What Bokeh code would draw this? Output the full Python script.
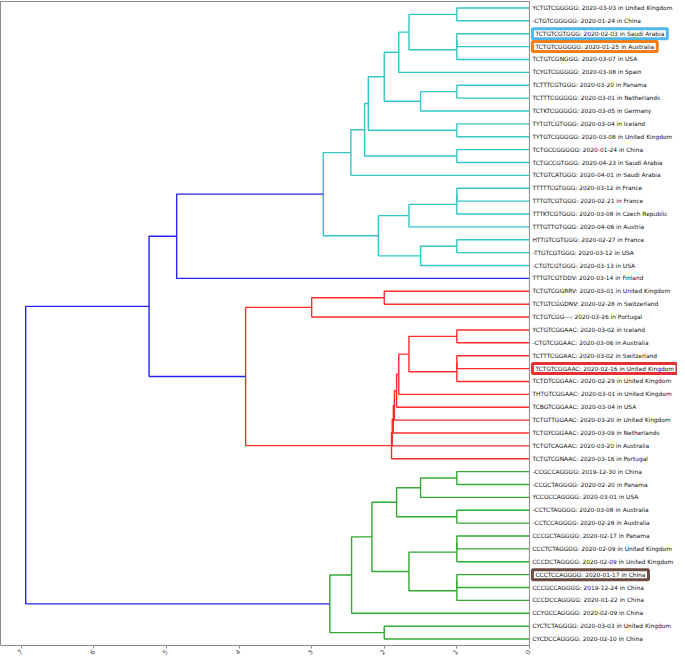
import numpy as np
from bokeh.plotting import figure
from bokeh.models import Range1d, LinearAxis, FixedTicker, Span, Label, ColumnDataSource
from bokeh.core.properties import value
from bokeh.embed import file_html
from bokeh.resources import INLINE

# ---------------- data ----------------
leaf_labels = [
    "YCTGTCGGGGG: 2020-03-03 in United Kingdom",
    "-CTGTCGGGGG: 2020-01-24 in China",
    "TCTGTCGTGGG: 2020-02-03 in Saudi Arabia",
    "TCTGTCGGGGG: 2020-01-25 in Australia",
    "TCTGTCGNGGG: 2020-03-07 in USA",
    "TCYGTCGGGGG: 2020-03-08 in Spain",
    "TCTTTCGTGGG: 2020-03-20 in Panama",
    "TCTTTCGGGGG: 2020-03-01 in Netherlands",
    "TCTKTCGGGGG: 2020-03-05 in Germany",
    "TYTGTCGTGGG: 2020-03-04 in Iceland",
    "TYTGTCGGGGG: 2020-03-08 in United Kingdom",
    "TCTGCCGGGGG: 2020-01-24 in China",
    "TCTGCCGTGGG: 2020-04-23 in Saudi Arabia",
    "TCTGTCATGGG: 2020-04-01 in Saudi Arabia",
    "TTTTTCGTGGG: 2020-03-12 in France",
    "TTTGTCGTGGG: 2020-02-21 in France",
    "TTTKTCGTGGG: 2020-03-08 in Czech Republic",
    "TTTGTTGTGGG: 2020-04-06 in Austria",
    "HTTGTCGTGGG: 2020-02-27 in France",
    "-TTGTCGTGGG: 2020-03-12 in USA",
    "-CTGTCGTGGG: 2020-03-13 in USA",
    "TTTGTCGTDDV: 2020-03-14 in Finland",
    "TCTGTCGGRRV: 2020-03-01 in United Kingdom",
    "TCTGTCGGDNV: 2020-02-28 in Switzerland",
    "TCTGTCGG---: 2020-03-26 in Portugal",
    "YCTGTCGGAAC: 2020-03-02 in Iceland",
    "-CTGTCGGAAC: 2020-03-06 in Australia",
    "TCTTTCGGAAC: 2020-03-02 in Switzerland",
    "TCTGTCGGAAC: 2020-02-16 in United Kingdom",
    "TCTDTCGGAAC: 2020-02-29 in United Kingdom",
    "THTGTCGGAAC: 2020-03-01 in United Kingdom",
    "TCBGTCGGAAC: 2020-03-04 in USA",
    "TCTGTTGGAAC: 2020-03-20 in United Kingdom",
    "TCTGYCGGAAC: 2020-03-09 in Netherlands",
    "TCTGTCAGAAC: 2020-03-20 in Australia",
    "TCTGTCGNAAC: 2020-03-16 in Portugal",
    "-CCGCCAGGGG: 2019-12-30 in China",
    "-CCGCTAGGGG: 2020-02-20 in Panama",
    "YCCGCCAGGGG: 2020-03-01 in USA",
    "-CCTCTAGGGG: 2020-03-08 in Australia",
    "-CCTCCAGGGG: 2020-02-28 in Australia",
    "CCCGCTAGGGG: 2020-02-17 in Panama",
    "CCCTCTAGGGG: 2020-02-09 in United Kingdom",
    "CCCDCTAGGGG: 2020-02-09 in United Kingdom",
    "CCCTCCAGGGG: 2020-01-17 in China",
    "CCCGCCAGGGG: 2019-12-24 in China",
    "CCCDCCAGGGG: 2020-01-22 in China",
    "CCYGCCAGGGG: 2020-02-09 in China",
    "CYCTCTAGGGG: 2020-03-03 in United Kingdom",
    "CYCDCCAGGGG: 2020-02-10 in China",
]

# merges: node ids 0..49 are leaves (top to bottom), new nodes start at 50
merge_a = [0, 2, 51, 50, 53, 6, 55, 54, 9, 57, 11, 59, 61, 14, 63, 64, 18, 66, 65, 62,
           69,
           22, 71, 25, 27, 74, 73, 76, 77, 78, 79, 80, 81, 72,
           70,
           36, 85, 39, 86, 41, 89, 44, 91, 90, 88, 94, 48, 95,
           84]
merge_b = [1, 3, 4, 52, 5, 7, 8, 56, 10, 58, 12, 60, 13, 15, 16, 17, 19, 20, 67, 68,
           21,
           23, 24, 26, 28, 29, 75, 30, 31, 32, 33, 34, 35, 82,
           83,
           37, 38, 40, 87, 42, 43, 45, 46, 92, 93, 47, 49, 96,
           97]
merge_height = [1.0, 1.0, 1.0, 1.66, 1.80, 1.0, 1.50, 2.0, 1.0, 2.22, 1.0, 2.27, 2.46,
                1.0, 1.0, 1.66, 1.0, 1.50, 2.08, 2.84,
                4.86,
                2.0, 3.0, 1.0, 1.0, 1.0, 1.66, 1.80, 1.83, 1.86, 1.875, 1.89, 1.90, 3.91,
                5.24,
                1.0, 1.5, 1.0, 1.83, 1.0, 1.0, 1.0, 1.0, 1.66, 2.17, 2.45, 2.0, 2.75,
                6.94]

color_threshold = 4.0
cluster_palette = ["#33a833", "#ff2b2b", "#33c6c6"]
above_color = "#2525ee"

x_ticks = [0, 1, 2, 3, 4, 5, 6, 7]

highlight_leaf = [2, 3, 28, 44]
highlight_color = ["#4db8ef", "#f17d1c", "#e23232", "#6b4c42"]

# ---------------- dendrogram geometry ----------------
n = len(leaf_labels)
node_y = {i: (n - 1 - i) * 10 + 5 for i in range(n)}
node_h = {i: 0.0 for i in range(n)}
children = {}
for k, (a, b, h) in enumerate(zip(merge_a, merge_b, merge_height)):
    nid = n + k
    children[nid] = (a, b)
    node_y[nid] = (node_y[a] + node_y[b]) / 2.0
    node_h[nid] = h

root = n + len(merge_a) - 1
node_color = {}
palette_iter = iter(cluster_palette)


def assign(node, inherited):
    if node < n:
        return
    h = node_h[node]
    if inherited is not None:
        c = inherited
    elif h >= color_threshold:
        c = None
    else:
        c = next(palette_iter)
    node_color[node] = above_color if c is None else c
    a, b = children[node]
    assign(b, c)
    assign(a, c)


assign(root, None)

xs, ys, cols = [], [], []
for nid in range(n, root + 1):
    a, b = children[nid]
    h = node_h[nid]
    xs.append([node_h[a], h, h, node_h[b]])
    ys.append([node_y[a], node_y[a], node_y[b], node_y[b]])
    cols.append(node_color[nid])

x_max = max(merge_height) * 1.05

# ---------------- figure ----------------
p = figure(width=677, height=659, output_backend="svg", toolbar_location=None,
           x_range=Range1d(x_max, -2.04), y_range=Range1d(0, n * 10),
           min_border_left=0, min_border_right=0, min_border_top=1, min_border_bottom=2)
p.outline_line_color = None
p.xgrid.visible = False
p.ygrid.visible = False
p.background_fill_color = "white"

spine_color = "#8a8a8a"

xa = p.xaxis[0]
xa.ticker = FixedTicker(ticks=x_ticks)
xa.bounds = (0, x_max)
xa.axis_line_color = spine_color
xa.major_tick_line_color = spine_color
xa.major_tick_out = 3
xa.major_tick_in = 0
xa.minor_tick_line_color = None
xa.major_label_text_font = "DejaVu Sans"
xa.major_label_text_font_size = "6.5px"
xa.major_label_text_color = "#444444"
xa.major_label_orientation = np.pi / 4
xa.major_label_standoff = 2

ya = p.yaxis[0]
ya.ticker = FixedTicker(ticks=[])
ya.axis_line_color = spine_color
ya.major_tick_out = 0
ya.major_tick_in = 0
ya.minor_tick_line_color = None
ya.major_label_text_font_size = "0px"
ya.major_label_standoff = 0

top = LinearAxis(ticker=FixedTicker(ticks=[]), bounds=(0, x_max),
                 axis_line_color=spine_color, major_tick_out=0, major_tick_in=0,
                 minor_tick_line_color=None, major_label_text_font_size="0px",
                 major_label_standoff=0)
p.add_layout(top, "above")

p.add_layout(Span(location=0, dimension="height", line_color=spine_color, line_width=1))

src = ColumnDataSource(dict(xs=xs, ys=ys, color=cols))
p.multi_line(xs="xs", ys="ys", line_color="color", line_width=1.4, source=src)

plain = [i for i in range(n) if i not in highlight_leaf]
lab_src = ColumnDataSource(dict(x=[0.0] * len(plain), y=[node_y[i] for i in plain],
                                t=[leaf_labels[i] for i in plain]))
p.text(x="x", y="y", text="t", source=lab_src, x_offset=3,
       text_font=value("DejaVu Sans"), text_font_size="5.9px",
       text_baseline="middle", text_align="left", text_color="#111111")

for i, c in zip(highlight_leaf, highlight_color):
    p.add_layout(Label(x=0.0, y=node_y[i], x_offset=3, text=leaf_labels[i],
                       text_font="DejaVu Sans", text_font_size="5.9px",
                       text_baseline="middle", text_align="left", text_color="#111111",
                       border_line_color=c, border_line_width=3, padding=(3, 2),
                       background_fill_color="white"))

open("out.html", "w").write(file_html(p, INLINE))
